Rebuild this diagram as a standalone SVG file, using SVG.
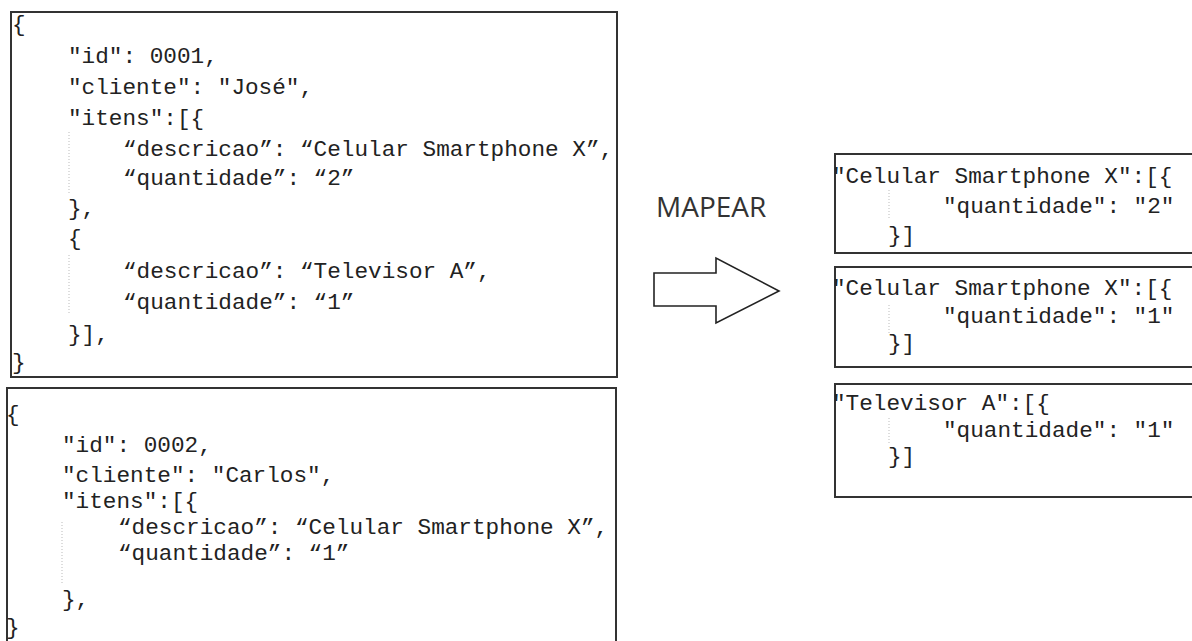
<svg xmlns="http://www.w3.org/2000/svg" width="1192" height="641" viewBox="0 0 1192 641">
<style>
.box{fill:#fff;stroke:#333;stroke-width:2}
.code{font-family:"Liberation Mono","DejaVu Sans Mono",monospace;font-size:22.7px;fill:#222}
.guide{stroke:#bbb;stroke-width:1;stroke-dasharray:1 2}
.label{font-family:"Open Sans","Liberation Sans",sans-serif;font-size:28px;fill:#333}
.arrow{fill:#fff;stroke:#222;stroke-width:1.6;stroke-linejoin:miter}
</style>
<rect width="1192" height="641" fill="#fff"/>
<g id="pedido1">
<rect class="box" x="11" y="12" width="606" height="365"/>
<line class="guide" x1="69" y1="132" x2="69" y2="193"/>
<line class="guide" x1="69" y1="255" x2="69" y2="313"/>
<text class="code" x="12" y="31">{</text>
<text class="code" x="68" y="63">"id": 0001,</text>
<text class="code" x="68" y="94">"cliente": "José",</text>
<text class="code" x="68" y="125">"itens":[{</text>
<text class="code" x="123" y="156">“descricao”: “Celular Smartphone X”,</text>
<text class="code" x="123" y="185">“quantidade”: “2”</text>
<text class="code" x="68" y="215">},</text>
<text class="code" x="68" y="245">{</text>
<text class="code" x="123" y="278">“descricao”: “Televisor A”,</text>
<text class="code" x="123" y="309">“quantidade”: “1”</text>
<text class="code" x="68" y="341">}],</text>
<text class="code" x="12" y="369">}</text>
</g>
<g id="pedido2">
<rect class="box" x="7" y="388" width="609" height="280"/>
<line class="guide" x1="62" y1="522" x2="62" y2="583"/>
<text class="code" x="6" y="421">{</text>
<text class="code" x="62" y="452">"id": 0002,</text>
<text class="code" x="62" y="482">"cliente": "Carlos",</text>
<text class="code" x="62" y="508">"itens":[{</text>
<text class="code" x="118" y="534">“descricao”: “Celular Smartphone X”,</text>
<text class="code" x="118" y="560">“quantidade”: “1”</text>
<text class="code" x="62" y="606">},</text>
<text class="code" x="6" y="634">}</text>
</g>
<g id="connectors">
<path class="arrow" d="M654,273 H716 V258 L779,291 L716,323 V306 H654 Z"/>
<text class="label" x="656" y="217">MAPEAR</text>
</g>
<g id="resultado1">
<rect class="box" x="835" y="154" width="380" height="99"/>
<line class="guide" x1="889" y1="190" x2="889" y2="220"/>
<text class="code" x="832" y="183">"Celular Smartphone X":[{</text>
<text class="code" x="943" y="213">"quantidade": "2"</text>
<text class="code" x="888" y="242">}]</text>
</g>
<g id="resultado2">
<rect class="box" x="835" y="267" width="380" height="100"/>
<line class="guide" x1="889" y1="305" x2="889" y2="333"/>
<text class="code" x="832" y="295">"Celular Smartphone X":[{</text>
<text class="code" x="943" y="323">"quantidade": "1"</text>
<text class="code" x="888" y="350">}]</text>
</g>
<g id="resultado3">
<rect class="box" x="835" y="384" width="380" height="113"/>
<line class="guide" x1="889" y1="418" x2="889" y2="445"/>
<text class="code" x="832" y="410">"Televisor A":[{</text>
<text class="code" x="943" y="437">"quantidade": "1"</text>
<text class="code" x="888" y="463">}]</text>
</g>
</svg>
